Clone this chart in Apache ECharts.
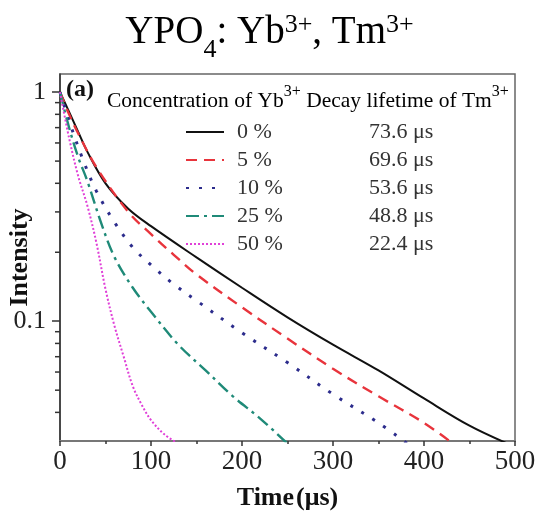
<!DOCTYPE html>
<html>
<head>
<meta charset="utf-8">
<script src="https://cdn.jsdelivr.net/npm/echarts@6/dist/echarts.min.js"></script>
<style>
  html, body { margin: 0; padding: 0; background: #fff; }
  #chart { width: 539px; height: 518px; }
</style>
</head>
<body>
<div id="chart"></div>
<script>
// decay curves (time in µs, normalised intensity)
const concLabels = ["0 %", "5 %", "10 %", "25 %", "50 %"];
const lifetimes = ["73.6 μs", "69.6 μs", "53.6 μs", "48.8 μs", "22.4 μs"];

const t0 = [0, 10, 20, 30, 50, 75, 100, 150, 200, 250, 300, 350, 400, 450, 492];
const i0 = [1, 0.82, 0.67, 0.55, 0.40, 0.31, 0.26, 0.19, 0.14, 0.104, 0.079, 0.061, 0.046, 0.035, 0.0292];

const t5 = [0, 10, 20, 40, 75, 100, 125, 150, 200, 250, 300, 350, 400, 432];
const i5 = [1, 0.80, 0.66, 0.47, 0.30, 0.24, 0.195, 0.16, 0.115, 0.084, 0.062, 0.047, 0.036, 0.0292];

const t10 = [0, 10, 25, 40, 60, 80, 100, 125, 150, 200, 250, 300, 350, 382];
const i10 = [1, 0.75, 0.51, 0.37, 0.27, 0.21, 0.176, 0.145, 0.123, 0.089, 0.066, 0.048, 0.036, 0.0292];

const t25 = [0, 10, 20, 30, 45, 60, 80, 100, 130, 160, 190, 220, 250];
const i25 = [1, 0.70, 0.52, 0.41, 0.27, 0.19, 0.14, 0.11, 0.079, 0.061, 0.047, 0.0376, 0.0292];

const t50 = [0, 10, 20, 30, 40, 50, 60, 70, 80, 90, 100, 115, 130];
const i50 = [1, 0.63, 0.43, 0.32, 0.22, 0.138, 0.095, 0.07, 0.052, 0.043, 0.037, 0.032, 0.0292];

const yMinorTicks = [0.04, 0.05, 0.06, 0.07, 0.08, 0.09, 0.2, 0.3, 0.4, 0.5, 0.6, 0.7, 0.8, 0.9];

const serif = "Liberation Serif";
const pair = (ts, vs) => ts.map((t, k) => [t, vs[k]]);

const styles = [
  { color: "#111111", type: "solid", width: 2 },
  { color: "#e8343c", type: [11, 7], width: 2.4 },
  { color: "#2c2c8c", type: [3, 10], width: 3 },
  { color: "#1f8a78", type: [13, 5, 3, 5], width: 2.4 },
  { color: "#e040d8", type: [2, 2], width: 2 }
];
const curves = [pair(t0, i0), pair(t5, i5), pair(t10, i10), pair(t25, i25), pair(t50, i50)];

const chart = echarts.init(document.getElementById("chart"));

const lineSeries = curves.map((d, k) => ({
  name: concLabels[k],
  type: "line",
  data: d,
  smooth: 0.35,
  showSymbol: false,
  symbol: "none",
  lineStyle: styles[k],
  itemStyle: { color: styles[k].color },
  z: 3
}));

chart.setOption({
  animation: false,
  backgroundColor: "#fff",
  textStyle: { fontFamily: serif },
  grid: {
    left: 60, right: 24, top: 74, bottom: 77,
    containLabel: false, outerBoundsMode: "none",
    show: true, borderColor: "#666", borderWidth: 1.5
  },
  xAxis: {
    type: "value", min: 0, max: 500, interval: 100,
    name: "{b|Time}{n|(μs)}", nameLocation: "middle", nameGap: 44,
    nameMoveOverlap: false,
    nameTextStyle: {
      verticalAlign: "top",
      rich: {
        b: { fontFamily: serif, fontSize: 26, fontWeight: "bold", color: "#111" },
        n: { fontFamily: serif, fontSize: 26, fontWeight: "bold", color: "#111", padding: [0, 0, 0, 2] }
      }
    },
    axisLine: { lineStyle: { color: "#777", width: 2 } },
    axisTick: { inside: false, length: 5, lineStyle: { color: "#333", width: 1.5 } },
    minorTick: { show: true, splitNumber: 2, length: 3, lineStyle: { color: "#333", width: 1.5 } },
    axisLabel: { fontFamily: serif, fontSize: 27, color: "#222", margin: 7 },
    splitLine: { show: false }
  },
  yAxis: {
    type: "log", logBase: 10, min: 0.03, max: 1.2,
    name: "Intensity", nameLocation: "middle", nameGap: 27, nameRotate: 90,
    nameMoveOverlap: false,
    nameTextStyle: { fontFamily: serif, fontSize: 26, fontWeight: "bold", color: "#111" },
    axisLine: { lineStyle: { color: "#333", width: 1.5 } },
    axisTick: { inside: false, length: 8, lineStyle: { color: "#333", width: 1.5 } },
    axisLabel: {
      fontFamily: serif, fontSize: 26, color: "#222", margin: 14,
      showMinLabel: false, showMaxLabel: false,
      formatter: v => (Math.abs(v - 1) < 1e-6 ? "1" : Math.abs(v - 0.1) < 1e-6 ? "0.1" : "")
    },
    splitLine: { show: false }
  },
  legend: {
    orient: "vertical",
    left: 180, top: 116,
    itemWidth: 38, itemHeight: 14, itemGap: 6,
    itemStyle: { opacity: 0 },
    data: concLabels,
    selectedMode: false,
    formatter: name => {
      const k = concLabels.indexOf(name);
      return "{c|" + name + "}{l|" + lifetimes[k] + "}";
    },
    textStyle: {
      rich: {
        c: { fontFamily: serif, fontSize: 22, color: "#333", width: 132, lineHeight: 22, padding: [0, 0, 0, 8] },
        l: { fontFamily: serif, fontSize: 22, color: "#333", lineHeight: 22 }
      }
    }
  },
  graphic: [
    {
      type: "text", left: "center", top: 12,
      style: {
        text: "{m|YPO}{s|4}{m|: Yb}{p|3+}{m|, Tm}{p|3+}",
        rich: {
          m: { fontFamily: serif, fontSize: 39, color: "#111", lineHeight: 42 },
          s: { fontFamily: serif, fontSize: 26, color: "#111", verticalAlign: "bottom", lineHeight: 26, padding: [0, 0, -9, 0] },
          p: { fontFamily: serif, fontSize: 26, color: "#111", verticalAlign: "top", lineHeight: 26 }
        }
      }
    },
    {
      type: "text", left: 66, top: 78,
      style: { text: "(a)", fontFamily: serif, fontSize: 24, fontWeight: "bold", fill: "#111" }
    },
    {
      type: "text", left: 107, top: 84,
      style: {
        text: "{t|Concentration of Yb}{p|3+}{t| Decay lifetime of Tm}{p|3+}",
        rich: {
          t: { fontFamily: serif, fontSize: 21.5, color: "#222", lineHeight: 28, verticalAlign: "bottom" },
          p: { fontFamily: serif, fontSize: 16, color: "#222", lineHeight: 28, verticalAlign: "top" }
        }
      }
    }
  ],
  series: lineSeries.concat([
    {
      type: "custom",
      coordinateSystem: "cartesian2d",
      data: yMinorTicks.map(v => [0, v]),
      silent: true,
      clip: false,
      renderItem: (params, api) => {
        const p = api.coord([0, api.value(1)]);
        return {
          type: "line",
          shape: { x1: p[0] - 5, y1: p[1], x2: p[0], y2: p[1] },
          style: { stroke: "#333", lineWidth: 1.5 }
        };
      }
    }
  ])
});
</script>
</body>
</html>
